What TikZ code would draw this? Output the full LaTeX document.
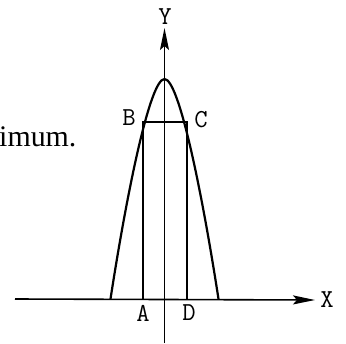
\documentclass[tikz,border=0pt]{standalone}
\usepackage{fontspec}
\setmainfont{Liberation Serif}
\usetikzlibrary{arrows.meta}
\begin{document}
\begin{tikzpicture}[x=1bp,y=-1bp,
  axis/.style={line width=1.6bp,-{Stealth[length=22bp,width=9bp,inset=4bp]}},
  curve/.style={line width=2.2bp},
  seg/.style={line width=2bp},
  lab/.style={font=\ttfamily\fontsize{26}{26}\selectfont,inner sep=0pt}]
\useasboundingbox (0,0) rectangle (346,344);
% axes
\coordinate (ybot) at (164.5,343);
\coordinate (ytop) at (164.5,28);
\coordinate (xl) at (15,299);
\coordinate (xr) at (315,300);
\draw[axis] (ybot) -- (ytop);
\draw[axis] (xl) -- (xr);
% points
\coordinate (A) at (143,299);
\coordinate (B) at (143,122);
\coordinate (C) at (187,122);
\coordinate (D) at (187,299);
\coordinate (L) at (110.5,299);
\coordinate (R) at (218.5,299);
\coordinate (T) at (164.5,79);
% curve
\draw[curve] (L) .. controls (127,192) and (150,79) .. (T)
  .. controls (179,79) and (202,192) .. (R);
% rectangle sides
\draw[seg] (A) -- (B) -- (C) -- (D);
% labels
\node[lab] (ylab) at (165,17) {Y};
\node[lab] (xlab) at (327,300) {X};
\node[lab] (blab) at (129,118) {B};
\node[lab] (clab) at (201,120) {C};
\node[lab] (alab) at (143,313) {A};
\node[lab] (dlab) at (189,313) {D};
\node[font=\fontsize{30}{30}\selectfont,inner sep=0pt,anchor=base west] (txt) at (-1,146) {imum.};
\end{tikzpicture}
\end{document}
